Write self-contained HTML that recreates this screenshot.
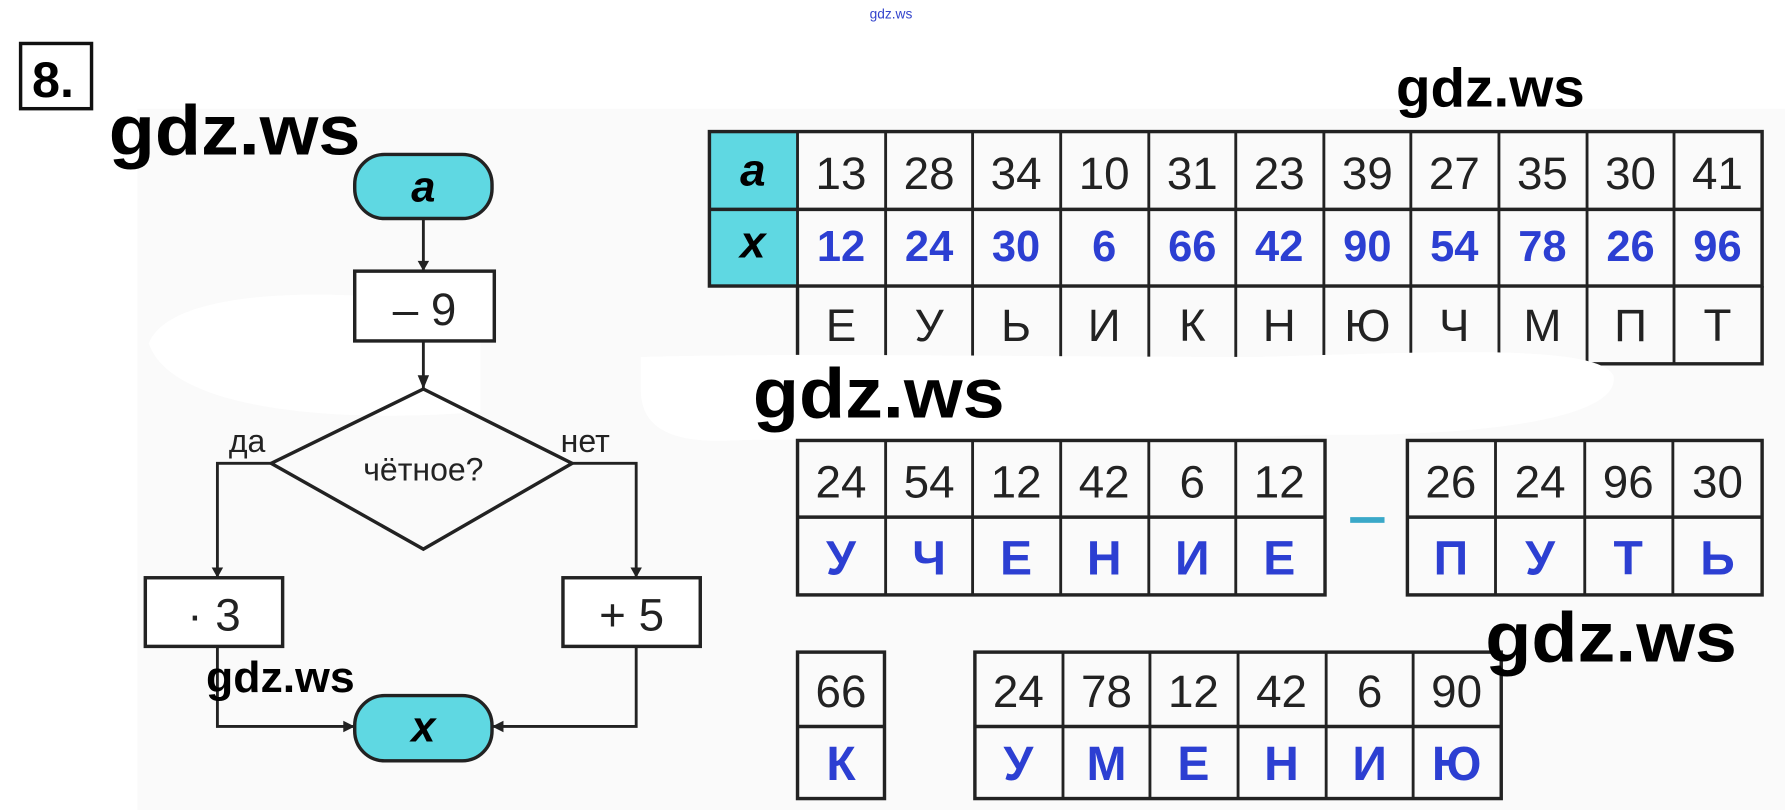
<!DOCTYPE html>
<html><head><meta charset="utf-8"><style>
html,body{margin:0;padding:0;background:#fff;}
svg{display:block}
text{font-family:"Liberation Sans",sans-serif;}
</style></head><body>
<svg width="1785" height="810" viewBox="0 0 1560 708" preserveAspectRatio="none" xmlns="http://www.w3.org/2000/svg">
<rect x="120" y="95" width="1440" height="613" fill="#fafafa"/>
<path d="M130,300 C150,250 300,250 420,270 L420,360 C300,370 150,360 130,300 Z" fill="#fff"/>
<text x="760" y="16" font-size="12" fill="#3344cc">gdz.ws</text>
<rect x="18" y="38" width="62" height="57" fill="none" stroke="#111" stroke-width="3"/>
<text x="28" y="85" font-size="44" font-family="Liberation Serif" font-weight="bold">8.</text>
<g stroke="#222" stroke-width="2.5" fill="none">
<line x1="370" y1="190" x2="370" y2="237"/>
<line x1="370" y1="298" x2="370" y2="340"/>
<polyline points="237,405 190,405 190,505"/>
<polyline points="500,405 556,405 556,505"/>
<polyline points="190,565 190,635 310,635"/>
<polyline points="556,565 556,635 430,635"/>
<polygon points="370,340 500,405 370,480 237,405" stroke-width="3"/>
<rect x="310" y="237" width="122" height="61" stroke-width="3" fill="#fff"/>
<rect x="127" y="505" width="120" height="60" stroke-width="3" fill="#fff"/>
<rect x="492" y="505" width="120" height="60" stroke-width="3" fill="#fff"/>
</g>
<g fill="#222"><polygon points="365,328 375,328 370,340"/><polygon points="365,228 375,228 370,237"/><polygon points="185,496 195,496 190,505"/><polygon points="551,496 561,496 556,505"/><polygon points="300,630 300,640 310,635"/><polygon points="440,630 440,640 430,635"/></g>
<rect x="310" y="135" width="120" height="56" rx="26" fill="#5fd8e2" stroke="#222" stroke-width="3"/>
<rect x="310" y="608" width="120" height="57" rx="26" fill="#5fd8e2" stroke="#222" stroke-width="3"/>
<text x="370" y="176" font-size="38" font-family="Liberation Serif" font-style="italic" font-weight="bold" text-anchor="middle">a</text>
<text x="370" y="648" font-size="38" font-family="Liberation Serif" font-style="italic" font-weight="bold" text-anchor="middle">x</text>
<text x="371" y="284" font-size="40" text-anchor="middle" fill="#222">– 9</text>
<text x="187" y="551" font-size="40" text-anchor="middle" fill="#222">· 3</text>
<text x="552" y="551" font-size="40" text-anchor="middle" fill="#222">+ 5</text>
<text x="370" y="420" font-size="28" text-anchor="middle" fill="#222">чётное?</text>
<text x="200" y="395" font-size="28" fill="#222">да</text>
<text x="490" y="395" font-size="28" fill="#222">нет</text>
<!-- main table -->
<rect x="620" y="115" width="77" height="135" fill="#5fd8e2"/>
<g stroke="#222" stroke-width="3" fill="none">
<rect x="620" y="115" width="920" height="135"/>
<line x1="620" y1="183" x2="1540" y2="183"/>
<polyline points="697,250 697,318 1540,318 1540,250"/>
</g>
<g stroke="#222" stroke-width="2.5">
<line x1="697" y1="115" x2="697" y2="318"/><line x1="774" y1="115" x2="774" y2="318"/><line x1="850" y1="115" x2="850" y2="318"/><line x1="927" y1="115" x2="927" y2="318"/><line x1="1004" y1="115" x2="1004" y2="318"/><line x1="1080" y1="115" x2="1080" y2="318"/><line x1="1157" y1="115" x2="1157" y2="318"/><line x1="1233" y1="115" x2="1233" y2="318"/><line x1="1310" y1="115" x2="1310" y2="318"/><line x1="1387" y1="115" x2="1387" y2="318"/><line x1="1463" y1="115" x2="1463" y2="318"/>
</g>
<text x="658" y="162" font-size="40" font-family="Liberation Serif" font-style="italic" font-weight="bold" text-anchor="middle">a</text>
<text x="658" y="225" font-size="40" font-family="Liberation Serif" font-style="italic" font-weight="bold" text-anchor="middle">x</text>
<g font-size="40" fill="#222" text-anchor="middle">
<text x="735" y="165">13</text><text x="812" y="165">28</text><text x="888" y="165">34</text><text x="965" y="165">10</text><text x="1042" y="165">31</text><text x="1118" y="165">23</text><text x="1195" y="165">39</text><text x="1271" y="165">27</text><text x="1348" y="165">35</text><text x="1425" y="165">30</text><text x="1501" y="165">41</text>
<text x="735" y="298">Е</text><text x="812" y="298">У</text><text x="888" y="298">Ь</text><text x="965" y="298">И</text><text x="1042" y="298">К</text><text x="1118" y="298">Н</text><text x="1195" y="298">Ю</text><text x="1271" y="298">Ч</text><text x="1348" y="298">М</text><text x="1425" y="298">П</text><text x="1501" y="298">Т</text>
</g>
<g font-size="38" font-weight="bold" fill="#2c3fd2" text-anchor="middle">
<text x="735" y="228">12</text><text x="812" y="228">24</text><text x="888" y="228">30</text><text x="965" y="228">6</text><text x="1042" y="228">66</text><text x="1118" y="228">42</text><text x="1195" y="228">90</text><text x="1271" y="228">54</text><text x="1348" y="228">78</text><text x="1425" y="228">26</text><text x="1501" y="228">96</text>
</g>
<!-- white blob -->
<path d="M560,312 C700,308 900,312 1100,312 C1250,308 1395,300 1410,328 C1418,365 1300,382 1150,380 C900,390 720,382 640,385 C580,388 560,370 560,340 Z" fill="#fff"/>
<!-- lower tables -->
<g stroke="#222" stroke-width="3" fill="none">
<rect x="697" y="385" width="461" height="135"/><line x1="697" y1="452" x2="1158" y2="452"/>
<rect x="1230" y="385" width="310" height="135"/><line x1="1230" y1="452" x2="1540" y2="452"/>
<rect x="697" y="570" width="76" height="128"/><line x1="697" y1="635" x2="773" y2="635"/>
<rect x="852" y="570" width="460" height="128"/><line x1="852" y1="635" x2="1312" y2="635"/>
</g>
<g stroke="#222" stroke-width="2.5">
<line x1="774" y1="385" x2="774" y2="520"/><line x1="850" y1="385" x2="850" y2="520"/><line x1="927" y1="385" x2="927" y2="520"/><line x1="1004" y1="385" x2="1004" y2="520"/><line x1="1080" y1="385" x2="1080" y2="520"/>
<line x1="1307" y1="385" x2="1307" y2="520"/><line x1="1385" y1="385" x2="1385" y2="520"/><line x1="1462" y1="385" x2="1462" y2="520"/>
<line x1="929" y1="570" x2="929" y2="698"/><line x1="1005" y1="570" x2="1005" y2="698"/><line x1="1082" y1="570" x2="1082" y2="698"/><line x1="1159" y1="570" x2="1159" y2="698"/><line x1="1235" y1="570" x2="1235" y2="698"/>
</g>
<g font-size="40" fill="#222" text-anchor="middle">
<text x="735" y="435">24</text><text x="812" y="435">54</text><text x="888" y="435">12</text><text x="965" y="435">42</text><text x="1042" y="435">6</text><text x="1118" y="435">12</text>
<text x="1268" y="435">26</text><text x="1346" y="435">24</text><text x="1423" y="435">96</text><text x="1501" y="435">30</text>
<text x="735" y="618">66</text>
<text x="890" y="618">24</text><text x="967" y="618">78</text><text x="1043" y="618">12</text><text x="1120" y="618">42</text><text x="1197" y="618">6</text><text x="1273" y="618">90</text>
</g>
<g font-size="42" font-weight="bold" fill="#2c3fd2" text-anchor="middle">
<text x="735" y="502">У</text><text x="812" y="502">Ч</text><text x="888" y="502">Е</text><text x="965" y="502">Н</text><text x="1042" y="502">И</text><text x="1118" y="502">Е</text>
<text x="1268" y="502">П</text><text x="1346" y="502">У</text><text x="1423" y="502">Т</text><text x="1501" y="502">Ь</text>
<text x="735" y="682">К</text>
<text x="890" y="682">У</text><text x="967" y="682">М</text><text x="1043" y="682">Е</text><text x="1120" y="682">Н</text><text x="1197" y="682">И</text><text x="1273" y="682">Ю</text>
</g>
<rect x="1180" y="452" width="30" height="5" fill="#3aa8c8"/>
<g font-family="Liberation Sans" font-weight="bold" fill="#000">
<text x="95" y="135" font-size="62" textLength="220" lengthAdjust="spacingAndGlyphs">gdz.ws</text>
<text x="1220" y="93" font-size="48" textLength="165" lengthAdjust="spacingAndGlyphs">gdz.ws</text>
<text x="658" y="365" font-size="62" textLength="220" lengthAdjust="spacingAndGlyphs">gdz.ws</text>
<text x="1298" y="578" font-size="62" textLength="220" lengthAdjust="spacingAndGlyphs">gdz.ws</text>
<text x="180" y="605" font-size="38" textLength="130" lengthAdjust="spacingAndGlyphs">gdz.ws</text>
</g>
</svg>
</body></html>
